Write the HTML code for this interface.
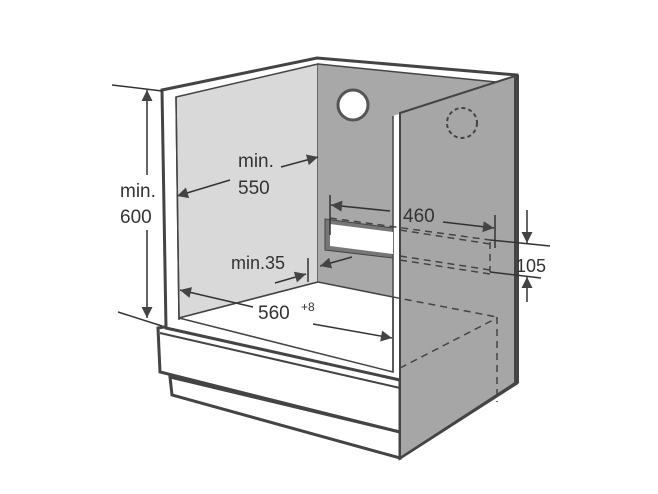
<!DOCTYPE html>
<html><head><style>body{margin:0;background:#fff}svg{display:block}text{font-family:"Liberation Sans",sans-serif;fill:#333}</style></head><body>
<svg width="658" height="494" viewBox="0 0 658 494" xmlns="http://www.w3.org/2000/svg">
<defs><marker id="a" viewBox="0 0 10 10" refX="10" refY="5" markerWidth="18" markerHeight="11" markerUnits="userSpaceOnUse" orient="auto"><path d="M0,0L10,5L0,10z" fill="#444"/></marker></defs>
<polygon points="170,377 400,432 400,458 172,395" fill="#fff" stroke="#444" stroke-width="3"/>
<polygon points="158,328 176,325 400,380 400,432 160,372" fill="#fff" stroke="#444" stroke-width="3"/>
<line x1="160" y1="333" x2="400" y2="388" stroke="#444" stroke-width="2"/>
<polygon points="162,90 317,58 517,75 517,383 400,458 400,380 166,328" fill="#fff" stroke="#444" stroke-width="3"/>
<polygon points="176,97 318,64 318,282 179,318" fill="#d9d9d9" stroke="#444" stroke-width="1.5"/>
<polygon points="318,64 496,82 393,116 393,297 318,282" fill="#a8a8a8"/>
<line x1="318" y1="64" x2="496" y2="82" stroke="#444" stroke-width="1.5"/>
<polygon points="179,318 318,282 393,297 393,372" fill="#fff" stroke="#444" stroke-width="1.5"/>
<line x1="176" y1="97" x2="179" y2="320" stroke="#444" stroke-width="1.5"/>
<line x1="393" y1="116" x2="393" y2="372" stroke="#444" stroke-width="1.5"/>
<polygon points="400,113 515,76 515,383 400,458" fill="#a6a6a6" stroke="#444" stroke-width="2"/>
<line x1="517" y1="75" x2="517" y2="383" stroke="#444" stroke-width="4"/>
<circle cx="353" cy="105" r="15" fill="#fff" stroke="#555" stroke-width="3"/>
<circle cx="462" cy="123" r="15" fill="none" stroke="#444" stroke-width="2" stroke-dasharray="4,3"/>
<polygon points="325,219 393,228 393,258 325,250" fill="#777" stroke="#444" stroke-width="1"/>
<polygon points="330,224 393,232 393,254 330,246" fill="#fff"/>
<g stroke="#444" stroke-width="1.5" fill="none" stroke-dasharray="7,5">
<line x1="330" y1="218" x2="490" y2="240"/><line x1="400" y1="230" x2="490" y2="244"/>
<line x1="400" y1="256" x2="490" y2="270"/><line x1="400" y1="260" x2="490" y2="274"/>
<line x1="490" y1="242" x2="490" y2="272"/>
<line x1="393" y1="297" x2="497" y2="317"/><line x1="497" y1="317" x2="497" y2="402"/><line x1="400" y1="368" x2="497" y2="318"/>
</g>
<g stroke="#333" stroke-width="1.5" fill="none">
<line x1="112" y1="85" x2="162" y2="91"/><line x1="118" y1="312" x2="162" y2="326"/>
<line x1="147" y1="175" x2="147" y2="90" marker-end="url(#a)"/>
<line x1="147" y1="230" x2="147" y2="318" marker-end="url(#a)"/>
<line x1="230" y1="180" x2="177" y2="196" marker-end="url(#a)"/>
<line x1="281" y1="167" x2="318" y2="157" marker-end="url(#a)"/>
<line x1="330" y1="195" x2="330" y2="235"/><line x1="495" y1="215" x2="495" y2="248"/>
<line x1="390" y1="211" x2="331" y2="205" marker-end="url(#a)"/>
<line x1="443" y1="222" x2="494" y2="228" marker-end="url(#a)"/>
<line x1="490" y1="240" x2="550" y2="246"/><line x1="490" y1="272" x2="541" y2="278"/>
<line x1="527" y1="210" x2="527" y2="243" marker-end="url(#a)"/>
<line x1="527" y1="302" x2="527" y2="277" marker-end="url(#a)"/>
<line x1="308" y1="258" x2="308" y2="282"/>
<line x1="275" y1="283" x2="306" y2="274" marker-end="url(#a)"/>
<line x1="352" y1="257" x2="320" y2="266" marker-end="url(#a)"/>
<line x1="253" y1="307" x2="180" y2="290" marker-end="url(#a)"/>
<line x1="313" y1="324" x2="392" y2="338" marker-end="url(#a)"/>
</g>
<text x="238" y="167" font-size="19">min.</text>
<text x="238" y="194" font-size="19">550</text>
<text x="120" y="197" font-size="19">min.</text>
<text x="120" y="223" font-size="19">600</text>
<text x="403" y="222" font-size="19">460</text>
<text x="516" y="272" font-size="18">105</text>
<text x="231" y="269" font-size="18">min.35</text>
<text x="258" y="319" font-size="19">560</text>
<text x="301" y="311" font-size="12">+8</text>
</svg>
</body></html>
